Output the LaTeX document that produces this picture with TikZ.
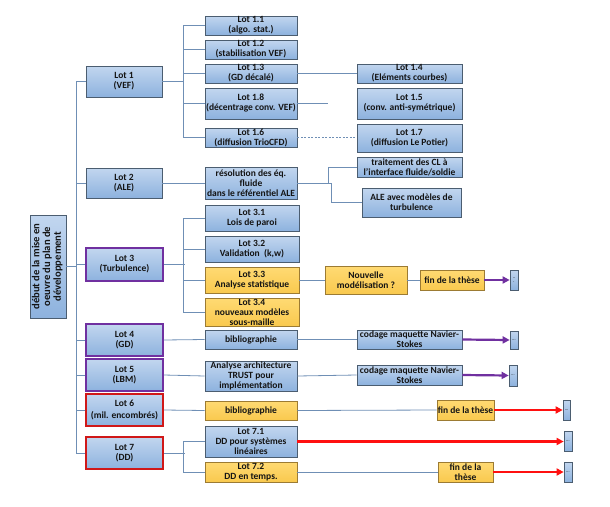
\documentclass[tikz,border=0pt]{standalone}
\usepackage{fontspec}
\setmainfont{Carlito}
\usetikzlibrary{arrows.meta,calc}

\definecolor{bluetop}{HTML}{C2D6EF}
\definecolor{bluebot}{HTML}{8DB2DE}
\definecolor{blueline}{HTML}{4B5D70}
\definecolor{yeltop}{HTML}{FFDA73}
\definecolor{yelbot}{HTML}{F9C94E}
\definecolor{yelline}{HTML}{9C7B33}
\definecolor{purpleedge}{HTML}{7030A0}
\definecolor{rededge}{HTML}{D01818}
\definecolor{arrowred}{HTML}{FF1010}
\definecolor{connline}{HTML}{6F8FB5}
\definecolor{textcol}{HTML}{141414}

% box with corners (x1,y1)-(x2,y2), in pixel-like units
\newcommand\lotbox[7][]{%
  \node[lotstyle,#1,minimum width={(#4-#2)*1pt},minimum height={(#5-#3)*1pt}]
    (#6) at ({(#2+#4)/2},{(#3+#5)/2}) {#7};}

\begin{document}
\begin{tikzpicture}[x=1pt,y=-1pt,
  lotstyle/.style={draw=blueline,line width=0.7pt,top color=bluetop,bottom color=bluebot,
    inner sep=0pt,align=center,text=textcol,
    font=\bfseries\fontsize{9.5}{10}\selectfont},
  yelbox/.style={draw=yelline,top color=yeltop,bottom color=yelbot},
  purpbox/.style={draw=purpleedge,line width=1.7pt},
  redbox/.style={draw=rededge,line width=1.7pt},
  dotbox/.style={font=\fontsize{4}{4}\selectfont\bfseries},
  conn/.style={draw=connline,line width=0.8pt},
  dashconn/.style={conn,dashed,dash pattern=on 2pt off 1.5pt},
  purparrow/.style={draw=purpleedge,line width=2.2pt,-{Triangle[length=7pt,width=7pt]}},
  redarrow/.style={draw=arrowred,line width=2.4pt,-{Triangle[length=7pt,width=7pt]}},
]
\useasboundingbox (0,0) rectangle (610,506);

% starting box with vertical text
\lotbox{30}{215}{66}{318}{start}{\rotatebox{90}{\fontsize{10.6}{10.8}\selectfont\begin{tabular}{@{}c@{}}d\'ebut de la mise en\\oeuvre du plan de\\d\'eveloppement\end{tabular}}}

% work packages
\lotbox{86}{66}{162}{97}{lot1}{Lot 1\\(VEF)}
\lotbox{86}{168}{162}{198}{lot2}{Lot 2\\(ALE)}
\lotbox[purpbox]{86}{248}{163}{281}{lot3}{Lot 3\\(Turbulence)}
\lotbox[purpbox]{86}{324}{163}{356}{lot4}{Lot 4\\(GD)}
\lotbox[purpbox]{86}{359}{163}{391}{lot5}{Lot 5\\(LBM)}
\lotbox[redbox]{86}{394}{163}{426}{lot6}{Lot 6\\[2.5pt](mil. encombr\'es)}
\lotbox[redbox]{86}{437}{163}{469}{lot7}{Lot 7\\(DD)}

% second column
\lotbox{205}{16}{297}{35}{l11}{Lot 1.1\\(algo. stat.)}
\lotbox{205}{40}{297}{59}{l12}{Lot 1.2\\(stabilisation VEF)}
\lotbox{205}{64}{297}{83}{l13}{Lot 1.3\\(GD d\'ecal\'e)}
\lotbox{205}{88}{297}{119}{l18}{Lot 1.8\\(d\'ecentrage conv. VEF)}
\lotbox{205}{128}{297}{147}{l16}{Lot 1.6\\(diffusion TrioCFD)}
\lotbox{205}{167}{297}{199}{res}{r\'esolution des \'eq.\\fluide\\dans le r\'ef\'erentiel ALE}
\lotbox{205}{205}{299}{231}{l31}{Lot 3.1\\Lois de paroi}
\lotbox{205}{236}{299}{262}{l32}{Lot 3.2\\Validation\ \ (k,w)}
\lotbox[yelbox]{205}{267}{299}{293}{l33}{Lot 3.3\\Analyse statistique}
\lotbox[yelbox]{205}{298}{299}{326}{l34}{Lot 3.4\\nouveaux mod\`eles\\sous-maille}
\lotbox{205}{330}{297}{349}{bib1}{bibliographie}
\lotbox{205}{361}{297}{391}{arch}{Analyse architecture\\TRUST pour\\impl\'ementation}
\lotbox[yelbox]{205}{401}{297}{420}{bib2}{bibliographie}
\lotbox{205}{426}{297}{457}{l71}{Lot 7.1\\DD pour syst\`emes\\lin\'eaires}
\lotbox[yelbox]{205}{462}{297}{482}{l72}{Lot 7.2\\DD en temps.}

% third column
\lotbox{357}{64}{462}{83}{l14}{Lot 1.4\\(El\'ements courbes)}
\lotbox{357}{88}{462}{119}{l15}{Lot 1.5\\(conv. anti-sym\'etrique)}
\lotbox{357}{124}{462}{152}{l17}{Lot 1.7\\(diffusion Le Potier)}
\lotbox{357}{157}{462}{177}{trait}{traitement des CL \`a\\l'interface fluide/soldie}
\lotbox{362}{188}{461}{217}{aleturb}{ALE avec mod\`eles de\\turbulence}
\lotbox[yelbox]{325}{266}{407}{294}{nouv}{Nouvelle\\mod\'elisation ?}
\lotbox{357}{330}{462}{349}{cod1}{codage maquette Navier-\\Stokes}
\lotbox{357}{365}{462}{385}{cod2}{codage maquette Navier-\\Stokes}

% thesis ends
\lotbox[yelbox]{420}{270}{484}{290}{fin1}{fin de la th\`ese}
\lotbox[yelbox]{437}{400}{494}{420}{fin2}{fin de la th\`ese}
\lotbox[yelbox]{438}{462}{493}{482}{fin3}{fin de la\\th\`ese}

% continuation markers
\lotbox[dotbox]{510}{270}{518}{290}{c3}{..\\.}
\lotbox[dotbox]{510}{331}{518}{349}{c4}{...}
\lotbox[dotbox]{509}{365}{517}{386}{c5}{...}
\lotbox[dotbox]{563}{400}{570}{420}{c6}{...}
\lotbox[dotbox]{564}{431}{572}{451}{c71}{...}
\lotbox[dotbox]{564}{462}{572}{482}{c72}{...}

% trunk
\draw[conn] (start.east) -- ++(11,0);
\draw[conn] (lot1.west) -- ++(-9,0) |- (lot7.west);
\foreach \n in {lot2,lot3,lot4,lot5,lot6}
  \draw[conn] (\n.west) -- ++(-9,0);

% Lot 1 branches
\draw[conn] (lot1.east) -- ++(22,0);
\draw[conn] (l11.west) -- ++(-21,0) |- (l16.west);
\foreach \n in {l12,l13,l18}
  \draw[conn] (\n.west) -- ++(-21,0);
\draw[conn] (l13.east) -- (l14.west);
\coordinate (l18end) at ($(l18.east)+(31,0)$);
\draw[conn] (l18.east) -- (l18end);
\draw[dashconn] (l16.east) -- (l16.east -| l17.west);

% Lot 2 branches
\draw[conn] (lot2.east) -- (res.west);
\draw[conn] (res.east) -- ++(34,0) |- (aleturb.west);
\draw[conn] ($(res.east)+(31,0)$) |- (trait.west);

% Lot 3 branches
\draw[conn] (lot3.east) -- ++(21,0);
\draw[conn] (l31.west) -- ++(-21,0) |- (l34.west);
\foreach \n in {l32,l33}
  \draw[conn] (\n.west) -- ++(-21,0);
\draw[conn] (l33.east) -- (nouv.west);
\draw[conn] (nouv.east) -- (fin1.west);
\draw[purparrow] (fin1.east) -- (c3.west);

% Lots 4 and 5
\draw[conn] (lot4.east) -- (bib1.west);
\draw[conn] (bib1.east) -- (cod1.west);
\draw[purparrow] (cod1.east) -- (c4.west);
\draw[conn] (lot5.east) -- (arch.west);
\draw[conn] (arch.east) -- (cod2.west);
\draw[purparrow] (cod2.east) -- (c5.west);

% Lot 6
\draw[conn] (lot6.east) -- (bib2.west);
\draw[conn] (bib2.east) -- (fin2.west);
\draw[redarrow] (fin2.east) -- (c6.west);

% Lot 7
\draw[conn] (lot7.east) -- ++(21,0);
\draw[conn] (l71.west) -- ++(-21,0) |- (l72.west);
\draw[redarrow] (l71.east) -- (l71.east -| c71.west);
\draw[conn] (l72.east) -- (fin3.west);
\draw[redarrow] (fin3.east) -- (c72.west);
\end{tikzpicture}
\end{document}
